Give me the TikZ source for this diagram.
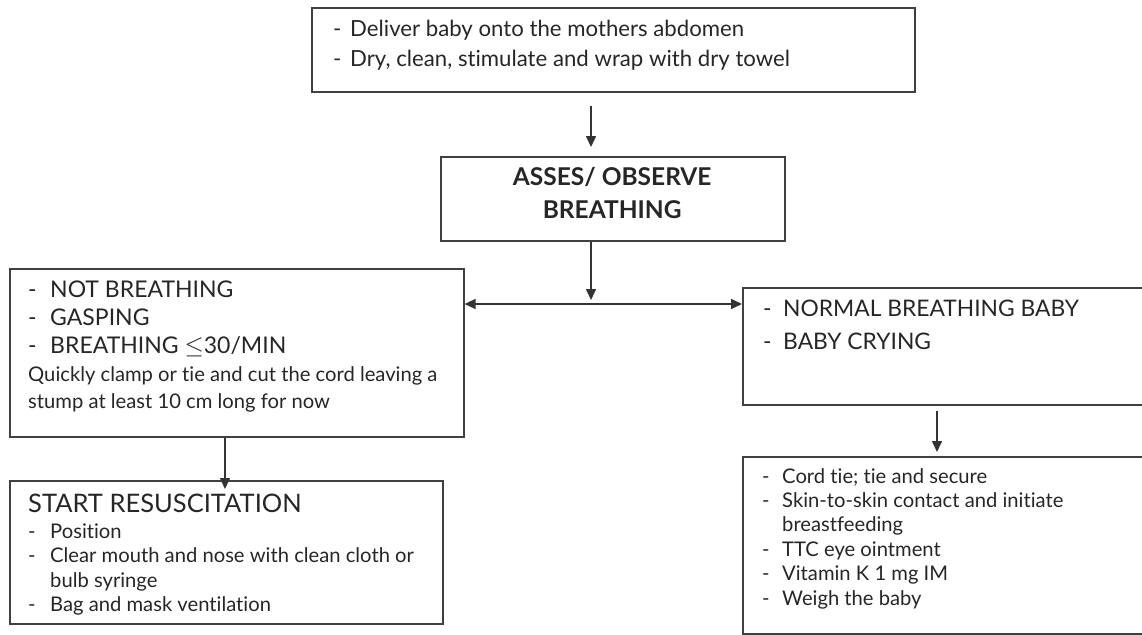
\documentclass[tikz,border=0pt]{standalone}
\usepackage{fontspec}
\setmainfont{Lato}[Ligatures={NoCommon}]
\usetikzlibrary{arrows.meta,calc}

% one box of text lines, first baseline = node base
\newcommand{\linestack}[2]{\vtop{\baselineskip=#1\lineskiplimit=-100pt\lineskip=0pt\relax #2}}
\newcommand{\dashline}[2][20pt]{\hbox{\makebox[#1][l]{-}#2}}
\newcommand{\hangline}[2][20pt]{\hbox{\hspace*{#1}#2}}
\newcommand{\plainline}[1]{\hbox{#1}}

\tikzset{
  flowbox/.style={draw=black!75, line width=1.6pt, inner sep=0pt, anchor=north west},
  flowtext/.style={anchor=base west, inner sep=0pt, text=black!85},
  flowarrow/.style={draw=black!80, line width=1.6pt, -{Triangle[length=11pt,width=10pt]}},
}

\begin{document}
\begin{tikzpicture}[x=1pt, y=-1pt]
	\clip (0,0) rectangle (1142,634);
	% boxes
	\node[flowbox, minimum width=603pt, minimum height=84pt] (deliver) at (311,7) {};
	\node[flowbox, minimum width=344pt, minimum height=84pt] (asses) at (440,156) {};
	\node[flowbox, minimum width=454pt, minimum height=168pt] (notbreathing) at (9,268) {};
	\node[flowbox, minimum width=430pt, minimum height=117pt] (normal) at (742,287) {};
	\node[flowbox, minimum width=433pt, minimum height=143pt] (resus) at (9,480) {};
	\node[flowbox, minimum width=430pt, minimum height=177pt] (care) at (742,456) {};
	% texts
	\node[flowtext, font=\fontsize{22.2}{22.2}\selectfont] (delivertext) at (333,37)
	  {\linestack{30pt}{\dashline[17pt]{Deliver baby onto the mothers abdomen}
	   \dashline[17pt]{Dry, clean, stimulate and wrap with dry towel}}};
	\node[flowtext, font=\fontsize{24.5}{24.5}\selectfont\bfseries] (assestext) at (440,185)
	  {\linestack{33pt}{\hbox to 344pt{\hfil ASSES/ OBSERVE\hfil}
	   \hbox to 344pt{\hfil BREATHING\hfil}}};
	\node[flowtext, font=\fontsize{23}{23}\selectfont] (notbreathingtext) at (28,297)
	  {\linestack{28pt}{\dashline[22pt]{NOT BREATHING}\dashline[22pt]{GASPING}
	   \dashline[22pt]{BREATHING $\leq$30/MIN}}};
	\node[flowtext, font=\fontsize{20.2}{20.2}\selectfont] (cordtext) at (28,381)
	  {\linestack{27pt}{\plainline{Quickly clamp or tie and cut the cord leaving a}
	   \plainline{stump at least 10 cm long for now}}};
	\node[flowtext, font=\fontsize{22.8}{22.8}\selectfont] (normaltext) at (763,316)
	  {\linestack{33pt}{\dashline{NORMAL BREATHING BABY}\dashline{BABY CRYING}}};
	\node[flowtext, font=\fontsize{25.5}{25.5}\selectfont] (resustitle) at (28,512)
	  {START RESUSCITATION};
	\node[flowtext, font=\fontsize{20.2}{20.2}\selectfont] (resustext) at (28,538)
	  {\linestack{24.6pt}{\dashline[22pt]{Position}
	   \dashline[22pt]{Clear mouth and nose with clean cloth or}
	   \hangline[22pt]{bulb syringe}\dashline[22pt]{Bag and mask ventilation}}};
	\node[flowtext, font=\fontsize{20.2}{20.2}\selectfont] (caretext) at (762,483)
	  {\linestack{24.4pt}{\dashline{Cord tie; tie and secure}
	   \dashline{Skin-to-skin contact and initiate}\hangline{breastfeeding}
	   \dashline{TTC eye ointment}\dashline{Vitamin K 1 mg IM}
	   \dashline{Weigh the baby}}};
	% connectors
	\coordinate (split) at (591,304);
	\coordinate (leftdrop) at (225,0);
	\coordinate (rightdrop) at (937,0);
	\draw[flowarrow, shorten <=13pt, shorten >=9pt] (split |- deliver.south) -- (split |- asses.north);
	\draw[flowarrow, shorten >=4pt] (split |- asses.south) -- (split);
	\draw[flowarrow, {Triangle[length=11pt,width=10pt]}-{Triangle[length=11pt,width=10pt]}]
	  (notbreathing.east |- split) -- (normal.west |- split);
	\draw[flowarrow, shorten <=5pt, shorten >=4pt] (rightdrop |- normal.south) -- (rightdrop |- care.north);
	\draw[flowarrow, shorten >=-9pt] (leftdrop |- notbreathing.south) -- (leftdrop |- resus.north);
\end{tikzpicture}
\end{document}
